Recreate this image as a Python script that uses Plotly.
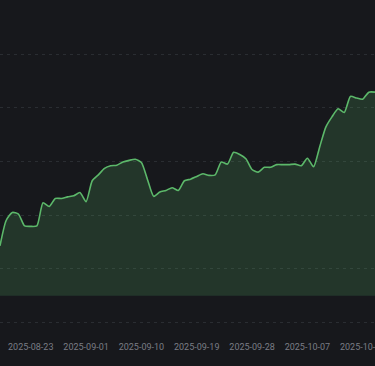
import pandas as pd
import plotly.graph_objects as go

start_date = "2025-08-18"
values = [93, 140, 155, 152, 130, 129, 130, 173, 166, 181,
          181, 184, 186, 192, 175, 214, 225, 237, 242, 243,
          249, 252, 254, 248, 216, 185, 193, 196, 201, 196,
          214, 217, 222, 227, 224, 225, 249, 245, 267, 263,
          255, 235, 230, 239, 239, 244, 244, 244, 245, 242,
          256, 240, 277, 314, 333, 348, 341, 371, 368, 366,
          379, 379]
dates = pd.date_range(start_date, periods=len(values), freq="D")

tick_start = "2025-08-23"
tick_step_days = 9

BG = "#17181c"
LINE = "#5cb86a"
FILL = "rgba(92,184,106,0.19)"
GRID = "#2a2d32"
TEXT = "#7a7d85"

fig = go.Figure()
fig.add_trace(go.Scatter(
    x=dates, y=values, mode="lines",
    line=dict(color=LINE, width=1.6, shape="spline", smoothing=0.6),
    fill="tozeroy", fillcolor=FILL,
    hoverinfo="skip",
))

fig.update_layout(
    width=375, height=366,
    margin=dict(l=0, r=0, t=0, b=30),
    paper_bgcolor=BG, plot_bgcolor=BG,
    showlegend=False,
    font=dict(family="Roboto", size=9, color=TEXT),
)
fig.update_xaxes(
    range=[dates[0], dates[-1]],
    tick0=tick_start, dtick=tick_step_days * 86400000,
    tickformat="%Y-%m-%d",
    showgrid=False, zeroline=False, showline=False,
    ticks="", ticklabelstandoff=4, automargin=False,
    ticklabeloverflow="allow",
    tickfont=dict(family="Roboto", size=9, color=TEXT),
)
fig.update_yaxes(
    range=[-75.1, 550.6],
    tick0=50, dtick=100,
    showticklabels=False, zeroline=False, showline=False,
    showgrid=True, gridcolor=GRID, gridwidth=1, griddash="3px,4px",
    automargin=False,
)

fig.write_html(
    "out.html",
    config={"displayModeBar": False},
    post_script="document.body.style.margin='0';document.body.style.background='#17181c';document.body.style.overflow='hidden';",
)
